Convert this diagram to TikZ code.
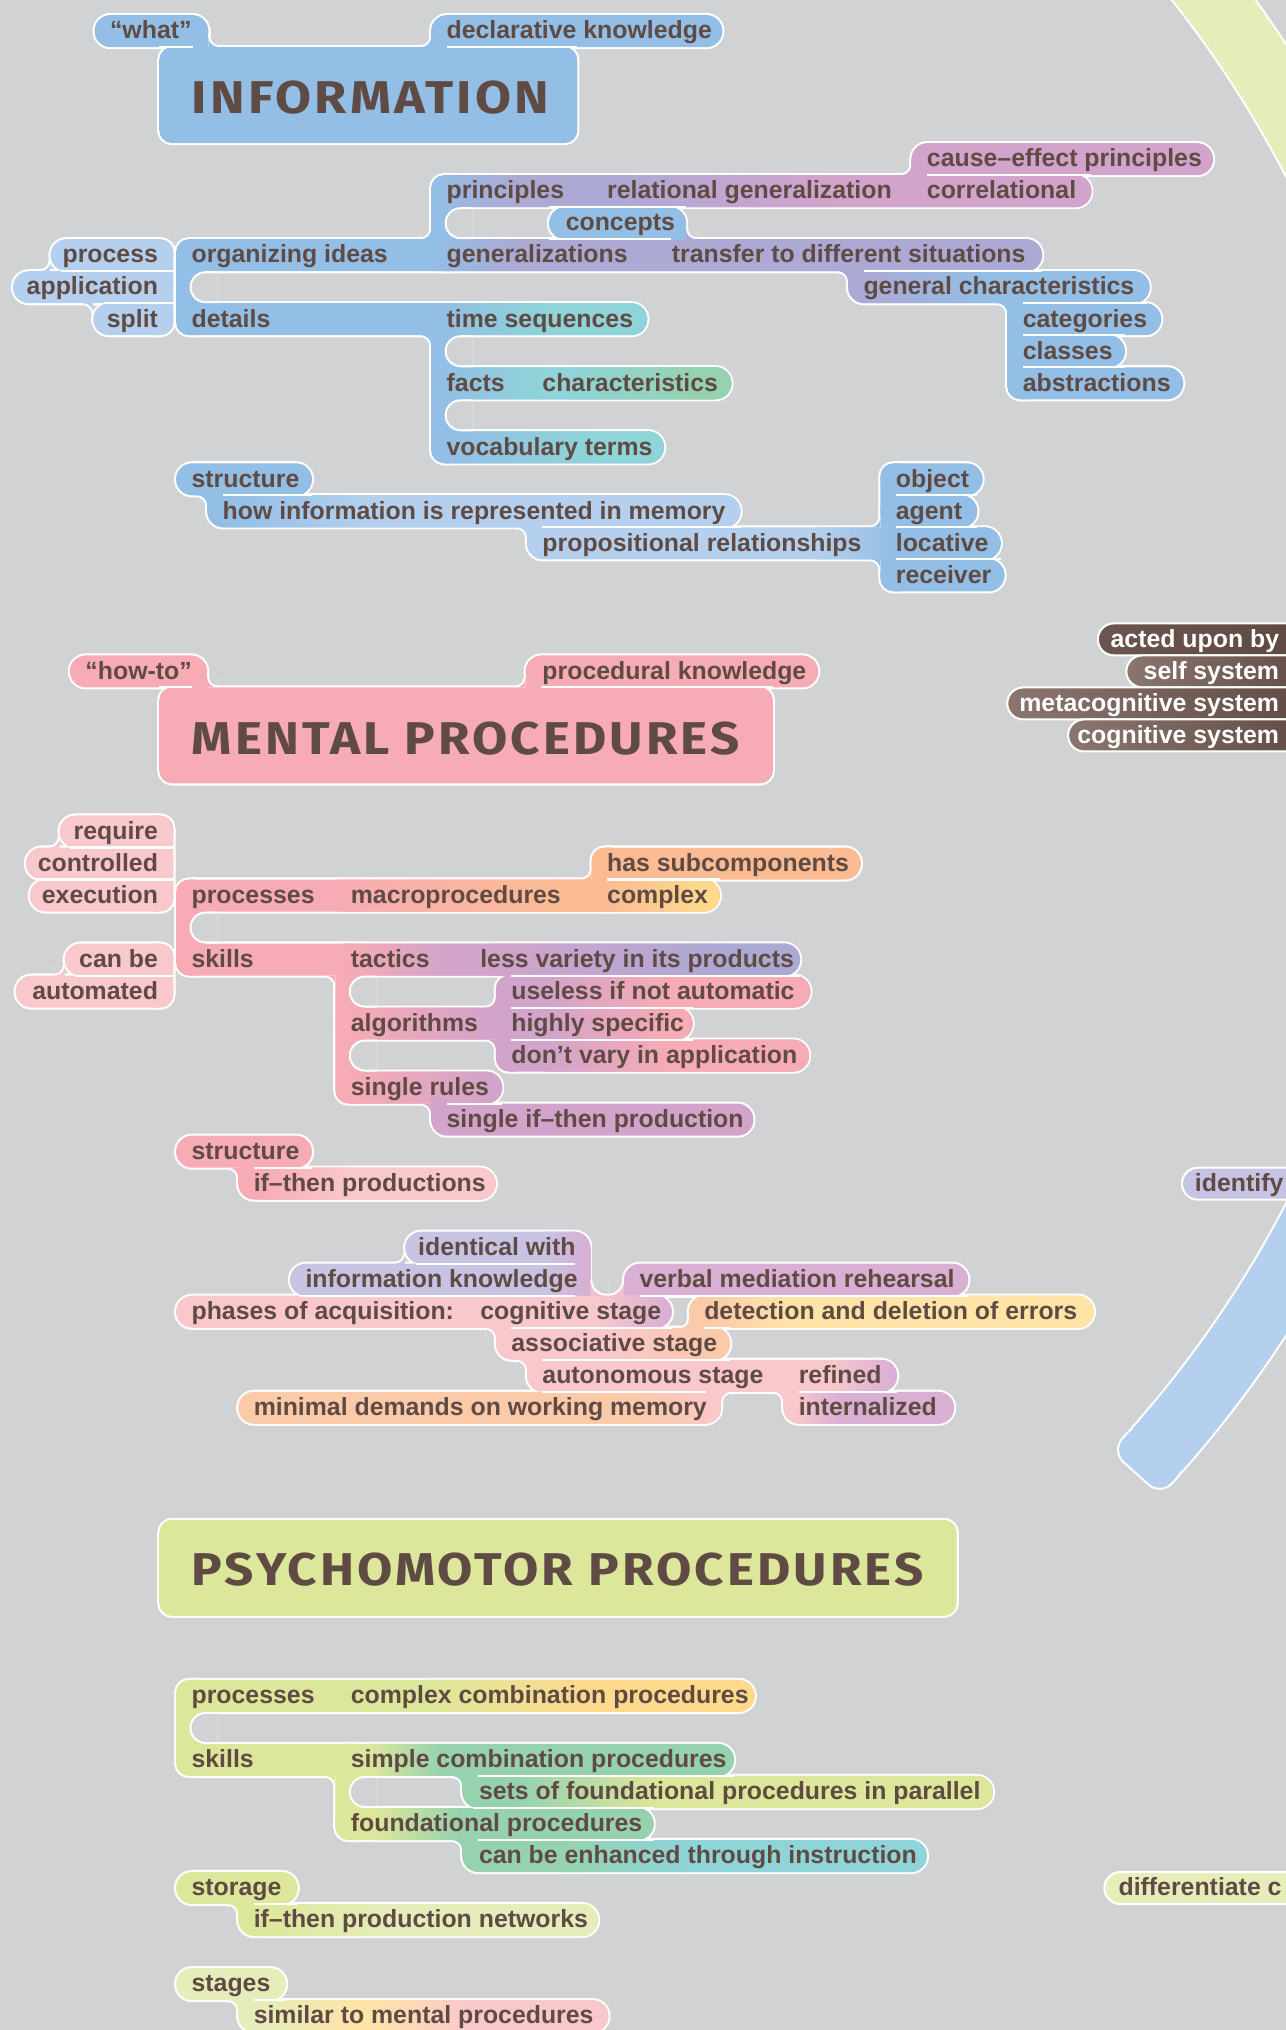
\documentclass[tikz,border=0pt]{standalone}
\usepackage{graphicx}
\usepackage{fontspec}
\setmainfont{Liberation Sans}
\newfontfamily\titlefont{Fira Sans}[LetterSpace=6]
\usetikzlibrary{calc}
\definecolor{bg}{HTML}{D1D2D4}
\definecolor{tc}{HTML}{5F4B44}
\definecolor{cblue}{HTML}{93BEE5}
\definecolor{clblue}{HTML}{B4D0EE}
\definecolor{clav}{HTML}{ACA9D5}
\definecolor{cppk}{HTML}{D2A3CB}
\definecolor{cteal}{HTML}{8ED4D8}
\definecolor{cgreen}{HTML}{97D2AE}
\definecolor{cpink}{HTML}{F7ABB4}
\definecolor{clpink}{HTML}{F9C8CC}
\definecolor{corange}{HTML}{FBBC93}
\definecolor{cyellow}{HTML}{FFD98C}
\definecolor{clyellow}{HTML}{FFE4A8}
\definecolor{cpeach}{HTML}{FBCAA8}
\definecolor{cyg}{HTML}{DDE79B}
\definecolor{clyg}{HTML}{E6EDBA}
\definecolor{clav2}{HTML}{C6C3E3}
\definecolor{cppk2}{HTML}{D9AFD4}
\definecolor{cbr1}{HTML}{6A564E}
\definecolor{cmbrown}{HTML}{8A766E}
\definecolor{cdbrown}{HTML}{5C4840}
\newcounter{mmn}
\newcommand\mmULp[3]{\draw[white,fill=white,line width=3.2pt,rounded corners=12.365pt] (#1,#3-0.5) rectangle (#2,#3+0.5);}
\newcommand\mmULr[4]{\draw[white,fill=white,line width=3.2pt,rounded corners=10pt] (#1,#2) rectangle (#3,#4);}
\newcommand\mmULs[4]{\draw[white,fill=white,line width=3.2pt] (#1,#2) rectangle (#3,#4);}
\newcommand\mmFp[4]{\fill[#4,rounded corners=12.365pt] (#1,#3-0.5) rectangle (#2,#3+0.5);}
\newcommand\mmFr[5]{\fill[#5,rounded corners=10pt] (#1,#2) rectangle (#3,#4);}
\newcommand\mmFs[5]{\fill[#5] (#1,#2) rectangle (#3,#4);}
\newcommand\mmgr[7]{\begin{scope}\clip[rounded corners=12.365pt] (#1,#3-0.5) rectangle (#2,#3+0.5);\shade[left color=#6,right color=#7] (#4,#3-0.6) rectangle (#5,#3+0.6);\fill[#7] (#5-0.3,#3-0.6) rectangle (#2+2,#3+0.6);\end{scope}}
\newcommand\mmfil[6]{\begin{scope}\clip (#1,#2) rectangle ++({(#3)*#5pt},{-(#4)*#5pt});\fill[#6] (#1,#2) rectangle ++({(#3)*#5pt},{-(#4)*#5pt});\fill[white] (#1,#2) ++({(#3)*#5pt},{-(#4)*#5pt}) circle[radius=#5pt];\fill[bg] (#1,#2) ++({(#3)*#5pt},{-(#4)*#5pt}) circle[radius={#5pt-1.6pt}];\end{scope}}
\newcommand\mmhole[2]{\begin{scope}\clip (#1-2,#2-0.6) rectangle (#1+20,#2+0.6);\fill[white,rounded corners=12.365pt] (#1-1.6,#2-0.5) rectangle (#1+60,#2+0.5);\fill[bg,rounded corners=10.765pt] (#1,#2-0.4353) rectangle (#1+60,#2+0.4353);\end{scope}}
\newcommand\mmsep[3]{\draw[white,line width=1.6pt] (#1,#3) -- (#2,#3);}
\newcommand\mmlb[3]{\stepcounter{mmn}\node[lab] (n\arabic{mmn}) at (#1,#2+0.243) {#3};}
\newcommand\mmlr[3]{\stepcounter{mmn}\node[labr] (n\arabic{mmn}) at (#1,#2+0.243) {#3};}
\newcommand\mmlw[3]{\stepcounter{mmn}\node[labw] (n\arabic{mmn}) at (#1,#2+0.243) {#3};}
\newcommand\mmtitle[5]{\node[anchor=base west,inner sep=0pt,text=tc] (#1) at (#2,#3) {\resizebox{#4pt}{\height}{\titlefont\bfseries\fontsize{35.5}{36}\selectfont #5}};}
\begin{document}
\begin{tikzpicture}[x=1pt,y=-24.73pt,
 lab/.style={anchor=base west,inner sep=0pt,outer sep=0pt,text=tc,font=\fontsize{19.2}{19.2}\selectfont\bfseries},
 labr/.style={lab,anchor=base east},
 labw/.style={lab,anchor=base east,text=white}]
\fill[bg] (0,-0.9705) rectangle (993,62.4345);
\useasboundingbox (0,-0.9705) rectangle (993,62.4345);
% ---------- ring segments
\coordinate (rc) at (230,20.582);
\draw[white,line width=53.2pt] ($(rc)+(20:886pt)$) arc[start angle=20,end angle=46,radius=886pt];
\draw[clyg,line width=50pt] ($(rc)+(20:886pt)$) arc[start angle=20,end angle=46,radius=886pt];
\draw[white,line width=53.2pt] ($(rc)+(-18:886pt)$) arc[start angle=-18,end angle=-41.5,radius=886pt];
\node[fill=white,rounded corners=13.6pt,minimum width=53.2pt,minimum height=34.2pt,inner sep=0pt,rotate=-42] (capw) at ($(rc)+(-42:886pt)$) {};
\draw[clblue,line width=50pt] ($(rc)+(-18:886pt)$) arc[start angle=-18,end angle=-41.5,radius=886pt];
\node[fill=clblue,rounded corners=12pt,minimum width=50pt,minimum height=31pt,inner sep=0pt,rotate=-42] (capb) at ($(rc)+(-42:886pt)$) {};
\draw[white,line width=1.6pt,fill=clav2,rounded corners=12.365pt] (913,35.5) rectangle (1030,36.5);
\mmlb{923}{36}{identify}
\draw[white,line width=1.6pt,fill=clyg,rounded corners=12.365pt] (853,57.5) rectangle (1060,58.5);
\mmlb{864}{58}{differentiate c}
% ---------- A: INFORMATION
\mmULp{73}{161}{0}\mmULs{149}{0}{161}{0.6}\mmULp{333}{558}{0}\mmULs{333}{0}{345}{0.6}\mmULr{123}{0.5}{446}{3.5}
\mmFr{123}{0.5}{446}{3.5}{cblue}\mmFp{73}{161}{0}{cblue}\mmFp{333}{558}{0}{cblue}
\mmFs{149}{0}{161}{0.6}{cblue}\mmFs{333}{0}{345}{0.6}{cblue}
\mmfil{161}{0.5}{1}{-1}{8}{cblue}\mmfil{333}{0.5}{-1}{-1}{8}{cblue}
\mmsep{123}{149}{0.5}\mmsep{345}{446}{0.5}
\mmlb{85}{0}{“what”}\mmlb{345}{0}{declarative knowledge}
\mmtitle{tinfo}{148}{2.572}{276}{INFORMATION}
% ---------- B: stack
\mmULp{39}{134}{7}\mmULp{10}{134}{8}\mmULp{72}{134}{9}\mmULr{110}{6.5}{134}{9.5}
\mmFr{110}{6.5}{134}{9.5}{clblue}\mmFp{39}{134}{7}{clblue}\mmFp{10}{134}{8}{clblue}\mmFp{72}{134}{9}{clblue}
\mmfil{39}{7.5}{-1}{-1}{8}{clblue}\mmfil{72}{8.5}{-1}{1}{8}{clblue}
\mmsep{47}{134}{7.5}\mmsep{80}{134}{8.5}
\mmlr{122}{7}{process}\mmlr{122}{8}{application}\mmlr{122}{9}{split}
% ---------- B: main
\mmULr{136}{6.5}{160.365}{9.5}\mmULp{136}{805}{7}\mmULp{136}{500}{9}
\mmULr{333}{4.5}{357.365}{7.5}\mmULr{333}{8.5}{357.365}{13.5}
\mmULp{333}{843}{5}\mmULp{704}{937}{4}\mmULs{704}{4}{716.4}{5}
\mmULp{424}{530}{6}\mmULs{518}{6}{530}{6.52}
\mmULp{655}{888}{8}\mmULs{655}{7.48}{667.4}{8}
\mmULr{778}{8}{802.365}{11.5}\mmULp{778}{897}{9}\mmULp{778}{869}{10}\mmULp{778}{914}{11}
\mmULp{333}{565}{11}\mmULp{333}{513}{13}
\mmFr{136}{6.5}{160.365}{9.5}{cblue}\mmFr{333}{4.5}{357.365}{7.5}{cblue}\mmFr{333}{8.5}{357.365}{13.5}{cblue}\mmFr{778}{8}{802.365}{11.5}{cblue}
\mmFp{136}{805}{7}{cblue}\mmgr{136}{805}{7}{335}{400}{cblue}{clav}
\mmFp{136}{500}{9}{cblue}\mmgr{136}{500}{9}{340}{420}{cblue}{cteal}
\mmFp{333}{843}{5}{cblue}\mmgr{333}{843}{5}{335}{400}{cblue}{clav}\mmgr{333}{843}{5}{470}{640}{clav}{cppk}
\mmFp{704}{937}{4}{cppk}\mmFs{704}{4}{716.4}{5}{cppk}
\mmFp{424}{530}{6}{cblue}\mmFs{518}{6}{530}{6.52}{cblue}
\mmFp{655}{888}{8}{clav}\mmgr{655}{888}{8}{665}{760}{clav}{cblue}\mmFs{655}{7.48}{667.4}{8}{clav}
\mmFp{778}{897}{9}{cblue}\mmFp{778}{869}{10}{cblue}\mmFp{778}{914}{11}{cblue}
\mmFp{333}{565}{11}{cblue}\mmgr{333}{565}{11}{340}{420}{cblue}{cteal}\mmgr{333}{565}{11}{440}{540}{cteal}{cgreen}
\mmFp{333}{513}{13}{cblue}\mmgr{333}{513}{13}{340}{460}{cblue}{cteal}
\mmfil{333}{6.5}{-1}{-1}{8}{cblue}\mmfil{333}{9.5}{-1}{1}{8}{cblue}\mmfil{704}{4.5}{-1}{-1}{8}{cppk}
\mmfil{530}{6.5}{1}{-1}{8}{clav}\mmfil{655}{7.5}{-1}{1}{8}{clav}\mmfil{778}{8.5}{-1}{1}{8}{cblue}
\mmhole{148}{8}\mmhole{345}{6}\mmhole{345}{10}\mmhole{345}{12}
\mmsep{716}{843}{4.5}\mmsep{424}{530}{5.5}\mmsep{424}{518}{6.5}\mmsep{667}{805}{7.5}
\mmsep{790}{886}{8.5}\mmsep{790}{869}{9.5}\mmsep{790}{869}{10.5}
\mmlb{148}{7}{organizing ideas}\mmlb{148}{9}{details}
\mmlb{345}{5}{principles}\mmlb{469}{5}{relational generalization}
\mmlb{716}{4}{cause–effect principles}\mmlb{716}{5}{correlational}
\mmlb{437}{6}{concepts}\mmlb{345}{7}{generalizations}\mmlb{519}{7}{transfer to different situations}
\mmlb{667}{8}{general characteristics}\mmlb{790}{9}{categories}\mmlb{790}{10}{classes}\mmlb{790}{11}{abstractions}
\mmlb{345}{9}{time sequences}\mmlb{345}{11}{facts}\mmlb{419}{11}{characteristics}\mmlb{345}{13}{vocabulary terms}
% ---------- C: structure
\mmULp{136}{241}{14}\mmULp{160}{572}{15}\mmULs{160}{14}{172.4}{15}
\mmULp{407}{773}{16}\mmULs{407}{15}{419.4}{16}
\mmULr{680}{13.5}{704.365}{17.5}\mmULp{680}{759}{14}\mmULp{680}{755}{15}\mmULp{680}{776}{17}
\mmFr{680}{13.5}{704.365}{17.5}{cblue}
\mmFp{136}{241}{14}{cblue}
\mmFp{160}{572}{15}{cblue}\mmgr{160}{572}{15}{172}{290}{cblue}{clblue}\mmFs{160}{14}{172.4}{15}{cblue}
\mmFp{407}{773}{16}{clblue}\mmgr{407}{773}{16}{630}{692}{clblue}{cblue}\mmFs{407}{15}{419.4}{16}{clblue}
\mmFp{680}{759}{14}{cblue}\mmFp{680}{755}{15}{cblue}\mmFp{680}{776}{17}{cblue}
\mmfil{160}{14.5}{-1}{1}{8}{cblue}\mmfil{407}{15.5}{-1}{1}{8}{clblue}
\mmfil{680}{15.5}{-1}{-1}{8}{cblue}\mmfil{680}{16.5}{-1}{1}{8}{cblue}
\mmsep{172}{241}{14.5}\mmsep{419}{572}{15.5}\mmsep{692}{755}{14.5}\mmsep{692}{755}{15.5}\mmsep{692}{773}{16.5}
\mmlb{148}{14}{structure}\mmlb{172}{15}{how information is represented in memory}
\mmlb{419}{16}{propositional relationships}
\mmlb{692}{14}{object}\mmlb{692}{15}{agent}\mmlb{692}{16}{locative}\mmlb{692}{17}{receiver}
% ---------- D: MENTAL PROCEDURES
\mmULp{54}{160}{20}\mmULs{148}{20}{160}{20.6}\mmULp{406}{632}{20}\mmULs{406}{20}{418}{20.6}\mmULr{123}{20.5}{597}{23.5}
\mmFr{123}{20.5}{597}{23.5}{cpink}\mmFp{54}{160}{20}{cpink}\mmFp{406}{632}{20}{cpink}
\mmFs{148}{20}{160}{20.6}{cpink}\mmFs{406}{20}{418}{20.6}{cpink}
\mmfil{160}{20.5}{1}{-1}{8}{cpink}\mmfil{406}{20.5}{-1}{-1}{8}{cpink}
\mmsep{123}{148}{20.5}\mmsep{418}{597}{20.5}
\mmlb{66}{20}{“how-to”}\mmlb{419}{20}{procedural knowledge}
\mmtitle{tment}{148}{22.59}{423}{MENTAL PROCEDURES}
% ---------- E: brown
\draw[white,line width=1.6pt,rounded corners=12.365pt,left color=cbr1,right color=cdbrown] (848,18.5) rectangle (1030,19.5);
\draw[white,line width=1.6pt,rounded corners=12.365pt,left color=cmbrown,right color=cdbrown] (870,19.5) rectangle (1030,20.5);
\draw[white,line width=1.6pt,rounded corners=12.365pt,left color=cmbrown,right color=cdbrown] (778,20.5) rectangle (1030,21.5);
\draw[white,line width=1.6pt,rounded corners=12.365pt,left color=cmbrown,right color=cdbrown] (825,21.5) rectangle (1030,22.5);
\mmlw{988}{19}{acted upon by}\mmlw{988}{20}{self system}\mmlw{988}{21}{metacognitive system}\mmlw{988}{22}{cognitive system}
% ---------- F: stacks
\mmULp{46}{134}{25}\mmULp{20}{134}{26}\mmULp{23}{134}{27}\mmULr{110}{24.5}{134}{27.5}
\mmULp{50}{134}{29}\mmULp{12}{134}{30}\mmULr{110}{28.5}{134}{30.5}
\mmFr{110}{24.5}{134}{27.5}{clpink}\mmFr{110}{28.5}{134}{30.5}{clpink}
\mmFp{46}{134}{25}{clpink}\mmFp{20}{134}{26}{clpink}\mmFp{23}{134}{27}{clpink}\mmFp{50}{134}{29}{clpink}\mmFp{12}{134}{30}{clpink}
\mmfil{46}{25.5}{-1}{-1}{8}{clpink}\mmfil{50}{29.5}{-1}{-1}{8}{clpink}
\mmsep{54}{134}{25.5}\mmsep{28}{134}{26.5}\mmsep{58}{134}{29.5}
\mmlr{122}{25}{require}\mmlr{122}{26}{controlled}\mmlr{122}{27}{execution}\mmlr{122}{29}{can be}\mmlr{122}{30}{automated}
% ---------- F: main
\mmULr{136}{26.5}{160.365}{29.5}\mmULp{136}{556}{27}\mmULr{457}{25.5}{481.365}{27.5}\mmULp{457}{665}{26}
\mmULp{136}{618}{29}\mmULr{259}{28.5}{283.365}{33.5}\mmULp{259}{535}{31}\mmULr{383}{29.5}{407.365}{32.5}
\mmULp{383}{626}{30}\mmULp{383}{625}{32}\mmULp{259}{388}{33}\mmULp{333}{582}{34}\mmULs{333}{33.3}{345.4}{34}
\mmFr{136}{26.5}{160.365}{29.5}{cpink}\mmFr{457}{25.5}{481.365}{27.5}{corange}\mmFr{259}{28.5}{283.365}{33.5}{cpink}\mmFr{383}{29.5}{407.365}{32.5}{cppk}
\mmFp{136}{556}{27}{cpink}\mmgr{136}{556}{27}{260}{427}{cpink}{corange}\mmgr{136}{556}{27}{469}{540}{corange}{cyellow}
\mmFp{457}{665}{26}{corange}
\mmFp{136}{618}{29}{cpink}\mmgr{136}{618}{29}{265}{350}{cpink}{cppk}\mmgr{136}{618}{29}{380}{560}{cppk}{clav}
\mmFp{259}{535}{31}{cpink}\mmgr{259}{535}{31}{270}{380}{cpink}{cppk}\mmgr{259}{535}{31}{420}{520}{cppk}{cpink}
\mmFp{383}{626}{30}{cppk}\mmgr{383}{626}{30}{420}{520}{cppk}{cpink}
\mmFp{383}{625}{32}{cppk}\mmgr{383}{625}{32}{420}{520}{cppk}{cpink}
\mmFp{259}{388}{33}{cpink}\mmgr{259}{388}{33}{270}{380}{cpink}{cppk}
\mmFp{333}{582}{34}{cppk}\mmFs{333}{33.3}{345.4}{34}{cppk}
\mmfil{457}{26.5}{-1}{-1}{8}{corange}\mmfil{259}{29.5}{-1}{1}{8}{cpink}
\mmfil{383}{30.5}{-1}{-1}{8}{cppk}\mmfil{383}{31.5}{-1}{1}{8}{cppk}\mmfil{333}{33.5}{-1}{1}{8}{cppk}
\mmhole{148}{28}\mmhole{271}{30}\mmhole{271}{32}
\mmsep{469}{556}{26.5}\mmsep{395}{618}{29.5}\mmsep{395}{535}{30.5}\mmsep{395}{535}{31.5}\mmsep{345}{388}{33.5}
\mmlb{148}{27}{processes}\mmlb{271}{27}{macroprocedures}\mmlb{469}{26}{has subcomponents}\mmlb{469}{27}{complex}
\mmlb{148}{29}{skills}\mmlb{271}{29}{tactics}\mmlb{371}{29}{less variety in its products}
\mmlb{395}{30}{useless if not automatic}\mmlb{271}{31}{algorithms}\mmlb{395}{31}{highly specific}
\mmlb{395}{32}{don’t vary in application}\mmlb{271}{33}{single rules}\mmlb{345}{34}{single if–then production}
% ---------- G
\mmULp{136}{241}{35}\mmULp{184}{383}{36}\mmULs{184}{35}{196.4}{36}
\mmFp{136}{241}{35}{cpink}\mmFp{184}{383}{36}{cpink}\mmgr{184}{383}{36}{200}{270}{cpink}{clpink}\mmFs{184}{35}{196.4}{36}{cpink}
\mmfil{184}{35.5}{-1}{1}{8}{cpink}\mmsep{196}{241}{35.5}
\mmlb{148}{35}{structure}\mmlb{196}{36}{if–then productions}
% ---------- H
\mmULp{313}{456}{38}\mmULp{224}{456}{39}\mmULs{432}{38}{456}{40}
\mmULp{482}{748}{39}\mmULs{482}{39}{494.4}{40}
\mmULp{136}{519}{40}\mmULp{532}{845}{40}\mmULs{532}{40}{544.4}{41}
\mmULp{383}{564}{41}\mmULs{383}{40.4}{395.4}{41}
\mmULp{407}{693}{42}\mmULs{407}{41.4}{419.4}{42}
\mmULp{184}{557}{43}\mmULs{545}{42.4}{557}{43}
\mmULp{605}{737}{43}\mmULs{605}{42.4}{617.4}{43}
\mmFp{313}{456}{38}{clav2}\mmgr{313}{456}{38}{420}{456}{clav2}{cppk2}
\mmFp{224}{456}{39}{clav2}\mmgr{224}{456}{39}{420}{456}{clav2}{cppk2}
\shade[left color=cppk2!35!clav2,right color=cppk2] (432,38) rectangle (456,40);
\mmFp{482}{748}{39}{cppk2}\mmFs{482}{39}{494.4}{40}{cppk2}
\mmFp{136}{519}{40}{clpink}\mmgr{136}{519}{40}{460}{515}{clpink}{cppk2}
\mmFp{532}{845}{40}{cpeach}\mmgr{532}{845}{40}{545}{610}{cpeach}{clyellow}\mmFs{532}{40}{544.4}{41}{cpeach}
\mmFp{383}{564}{41}{clpink}\mmgr{383}{564}{41}{470}{550}{clpink}{cpeach}\mmFs{383}{40.4}{395.4}{41}{clpink}
\mmFp{407}{693}{42}{clpink}\mmgr{407}{693}{42}{640}{690}{clpink}{cppk2}\mmFs{407}{41.4}{419.4}{42}{clpink}
\mmFp{184}{557}{43}{cpeach}\mmgr{184}{557}{43}{490}{557}{cpeach}{clpink}\mmFs{545}{42.4}{557}{43}{clpink}
\mmFp{605}{737}{43}{clpink}\mmgr{605}{737}{43}{612}{650}{clpink}{cppk2}\mmFs{605}{42.4}{617.4}{43}{clpink}
\mmfil{313}{38.5}{-1}{-1}{8}{clav2}
\mmfil{456}{39.5}{1}{-1}{12}{clpink!70!cppk2}\mmfil{482}{39.5}{-1}{-1}{12}{clpink!70!cppk2}
\mmfil{383}{40.5}{-1}{1}{8}{clpink}\mmfil{532}{40.5}{-1}{-1}{6}{cpeach}\mmfil{407}{41.5}{-1}{1}{8}{clpink}
\mmfil{557}{42.5}{1}{1}{8}{clpink}\mmfil{605}{42.5}{-1}{1}{8}{clpink}
\mmsep{321}{444}{38.5}\mmsep{232}{444}{39.5}\mmsep{494}{748}{39.5}\mmsep{395}{519}{40.5}\mmsep{544}{564}{40.5}
\mmsep{419}{564}{41.5}\mmsep{419}{545}{42.5}\mmsep{617}{693}{42.5}
\mmlb{323}{38}{identical with}\mmlb{236}{39}{information knowledge}\mmlb{494}{39}{verbal mediation rehearsal}
\mmlb{148}{40}{phases of acquisition:}\mmlb{371}{40}{cognitive stage}\mmlb{544}{40}{detection and deletion of errors}
\mmlb{395}{41}{associative stage}\mmlb{419}{42}{autonomous stage}\mmlb{617}{42}{refined}
\mmlb{196}{43}{minimal demands on working memory}\mmlb{617}{43}{internalized}
% ---------- I: PSYCHOMOTOR
\mmULr{123}{46.5}{739}{49.5}\mmFr{123}{46.5}{739}{49.5}{cyg}
\mmtitle{tpsy}{148}{48.56}{565}{PSYCHOMOTOR PROCEDURES}
% ---------- J
\mmULr{136}{51.5}{160.365}{54.5}\mmULp{136}{583}{52}\mmULp{136}{567}{54}\mmULr{259}{53.5}{283.365}{56.5}
\mmULp{357}{767}{55}\mmULs{357}{54.4}{369.4}{55}\mmULp{259}{505}{56}\mmULp{357}{716}{57}\mmULs{357}{56.4}{369.4}{57}
\mmFr{136}{51.5}{160.365}{54.5}{cyg}\mmFr{259}{53.5}{283.365}{56.5}{cyg}
\mmFp{136}{583}{52}{cyg}\mmgr{136}{583}{52}{330}{460}{cyg}{cyellow}
\mmFp{136}{567}{54}{cyg}\mmgr{136}{567}{54}{285}{340}{cyg}{cgreen}
\mmFp{357}{767}{55}{cgreen}\mmgr{357}{767}{55}{400}{510}{cgreen}{cyg}\mmFs{357}{54.4}{369.4}{55}{cgreen}
\mmFp{259}{505}{56}{cyg}\mmgr{259}{505}{56}{290}{355}{cyg}{cgreen}
\mmFp{357}{716}{57}{cgreen}\mmgr{357}{716}{57}{430}{530}{cgreen}{cteal}\mmFs{357}{56.4}{369.4}{57}{cgreen}
\mmfil{259}{54.5}{-1}{1}{8}{cyg}\mmfil{357}{54.5}{-1}{1}{8}{cgreen}\mmfil{357}{56.5}{-1}{1}{8}{cgreen}
\mmhole{148}{53}\mmhole{271}{55}
\mmsep{369}{567}{54.5}\mmsep{365}{505}{55.5}\mmsep{369}{505}{56.5}
\mmlb{148}{52}{processes}\mmlb{271}{52}{complex combination procedures}
\mmlb{148}{54}{skills}\mmlb{271}{54}{simple combination procedures}
\mmlb{370}{55}{sets of foundational procedures in parallel}\mmlb{271}{56}{foundational procedures}
\mmlb{370}{57}{can be enhanced through instruction}
% ---------- K
\mmULp{136}{230}{58}\mmULp{184}{462}{59}\mmULs{184}{58}{196.4}{59}
\mmFp{136}{230}{58}{cyg}\mmFp{184}{462}{59}{cyg}\mmgr{184}{462}{59}{200}{300}{cyg}{clyg}\mmFs{184}{58}{196.4}{59}{cyg}
\mmfil{184}{58.5}{-1}{1}{8}{cyg}\mmsep{196}{230}{58.5}
\mmlb{148}{58}{storage}\mmlb{196}{59}{if–then production networks}
% ---------- L
\mmULp{136}{221}{61}\mmULp{184}{470}{62}\mmULs{184}{61}{196.4}{62}
\mmFp{136}{221}{61}{clyg}\mmFp{184}{470}{62}{clyg}\mmgr{184}{470}{62}{200}{275}{clyg}{clyellow}\mmgr{184}{470}{62}{285}{365}{clyellow}{clpink}\mmFs{184}{61}{196.4}{62}{clyg}
\mmfil{184}{61.5}{-1}{1}{8}{clyg}\mmsep{196}{221}{61.5}
\mmlb{148}{61}{stages}\mmlb{196}{62}{similar to mental procedures}
\end{tikzpicture}
\end{document}
